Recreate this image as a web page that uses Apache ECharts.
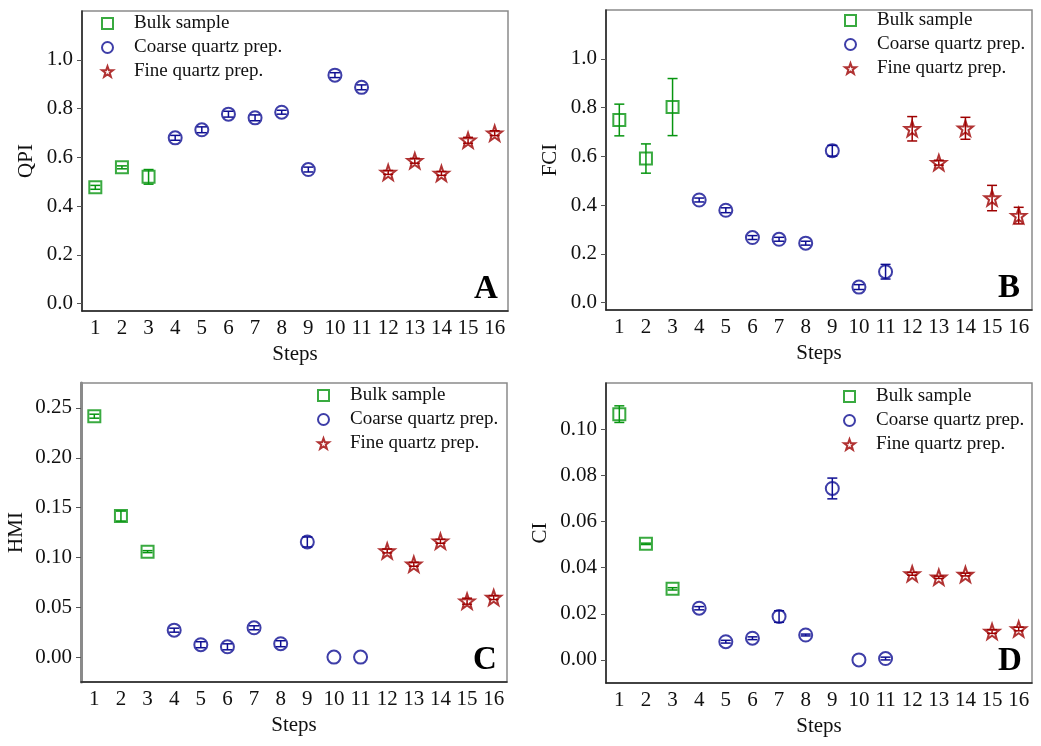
<!DOCTYPE html>
<html>
<head>
<meta charset="utf-8">
<title>QPI / FCI / HMI / CI by step</title>
<script src="https://cdn.jsdelivr.net/npm/echarts@6/dist/echarts.min.js"></script>
<style>
  html, body { margin: 0; padding: 0; background: #fff; }
  #chart { width: 1041px; height: 746px; }
</style>
</head>
<body>
<div id="chart"></div>
<script>
// 步骤 1-16
const steps = ['1', '2', '3', '4', '5', '6', '7', '8', '9', '10', '11', '12', '13', '14', '15', '16'];
// 每个步骤属于哪一组
const stepGroup = ['bulk', 'bulk', 'bulk', 'coarse', 'coarse', 'coarse', 'coarse', 'coarse',
  'coarse', 'coarse', 'coarse', 'fine', 'fine', 'fine', 'fine', 'fine'];

// A - QPI
const qpi = [0.477, 0.559, 0.520, 0.680, 0.713, 0.777, 0.762, 0.785, 0.550, 0.937, 0.887, 0.538, 0.586, 0.534, 0.670, 0.699];
const qpiErr = [0.008, 0.006, 0.030, 0.010, 0.012, 0.012, 0.012, 0.008, 0.010, 0.010, 0.010, 0.008, 0.010, 0.008, 0.012, 0.010];
// B - FCI
const fci = [0.749, 0.591, 0.802, 0.421, 0.379, 0.267, 0.260, 0.244, 0.623, 0.064, 0.127, 0.713, 0.574, 0.715, 0.429, 0.357];
const fciErr = [0.065, 0.060, 0.117, 0.008, 0.010, 0.008, 0.008, 0.008, 0.022, 0.010, 0.030, 0.050, 0.010, 0.045, 0.052, 0.034];
// C - HMI
const hmi = [0.2417, 0.1415, 0.1058, 0.0270, 0.0124, 0.0103, 0.0294, 0.0134, 0.1155, 0.0000, 0.0000, 0.1065, 0.0931, 0.1162, 0.0561, 0.0597];
const hmiErr = [0.002, 0.005, 0.001, 0.002, 0.003, 0.003, 0.002, 0.003, 0.005, 0.000, 0.000, 0.002, 0.002, 0.002, 0.003, 0.002];
// D - CI
const ci = [0.1065, 0.0503, 0.0308, 0.0224, 0.0079, 0.0094, 0.0188, 0.0108, 0.0743, 0.0000, 0.0006, 0.0373, 0.0358, 0.0370, 0.0123, 0.0134];
const ciErr = [0.0036, 0.0003, 0.0005, 0.0007, 0.0006, 0.0006, 0.0025, 0.0004, 0.0045, 0.0000, 0.0006, 0.0006, 0.0005, 0.0006, 0.0008, 0.0008];

// y 轴刻度
const ticksA = [0, 0.2, 0.4, 0.6, 0.8, 1.0];
const ticksB = [0, 0.2, 0.4, 0.6, 0.8, 1.0];
const ticksC = [0, 0.05, 0.10, 0.15, 0.20, 0.25];
const ticksD = [0, 0.02, 0.04, 0.06, 0.08, 0.10];

const groups = [
  { key: 'bulk', name: 'Bulk sample', color: '#079510', symbol: 'rect', size: 12 },
  { key: 'coarse', name: 'Coarse quartz prep.', color: '#0e0e92', symbol: 'circle', size: 13 },
  { key: 'fine', name: 'Fine quartz prep.', color: '#9e0000', size: 15,
    symbol: 'path://M0,-10L2.35,-3.24L9.51,-3.09L3.8,1.24L5.88,8.09L0,4.1L-5.88,8.09L-3.8,1.24L-9.51,-3.09L-2.35,-3.24Z' }
];

const FONT = '"Liberation Serif", "Times New Roman", serif';

const panels = [
  { label: 'A', name: 'QPI', values: qpi, errs: qpiErr, ticks: ticksA, min: -0.03, max: 1.2, digits: 1,
    grid: { left: 82, top: 11, width: 426, height: 300 }, nameGap: 45, legend: { left: 101, top: 14 } },
  { label: 'B', name: 'FCI', values: fci, errs: fciErr, ticks: ticksB, min: -0.03, max: 1.2, digits: 1,
    grid: { left: 606, top: 10, width: 426, height: 300 }, nameGap: 45, legend: { left: 844, top: 11 } },
  { label: 'C', name: 'HMI', values: hmi, errs: hmiErr, ticks: ticksC, min: -0.025, max: 0.275, digits: 2,
    grid: { left: 81, top: 383, width: 426, height: 299 }, nameGap: 54, legend: { left: 317, top: 386 }, thickAxis: true },
  { label: 'D', name: 'CI', values: ci, errs: ciErr, ticks: ticksD, min: -0.01, max: 0.12, digits: 2,
    grid: { left: 606, top: 383, width: 426, height: 300 }, nameGap: 55, legend: { left: 843, top: 387 } }
];

// 误差线
const errorBar = (color) => (params, api) => {
  const x = api.value(0);
  const top = api.coord([x, api.value(2)]);
  const bot = api.coord([x, api.value(1)]);
  if (Math.abs(bot[1] - top[1]) < 0.5) return null;
  const half = 5;
  const style = { stroke: color, lineWidth: 1.5 };
  return {
    type: 'group',
    children: [
      { type: 'line', shape: { x1: top[0], y1: top[1], x2: bot[0], y2: bot[1] }, style },
      { type: 'line', shape: { x1: top[0] - half, y1: top[1], x2: top[0] + half, y2: top[1] }, style },
      { type: 'line', shape: { x1: bot[0] - half, y1: bot[1], x2: bot[0] + half, y2: bot[1] }, style }
    ]
  };
};

const option = {
  backgroundColor: '#fff',
  animation: false,
  textStyle: { fontFamily: FONT },
  grid: [], xAxis: [], yAxis: [], series: [], legend: [], title: []
};

panels.forEach((p, i) => {
  option.grid.push(Object.assign({
    show: true, borderColor: '#8a8a8a', borderWidth: 1.5, backgroundColor: 'transparent'
  }, p.grid));

  option.xAxis.push({
    type: 'category', gridIndex: i, data: steps, boundaryGap: true,
    name: 'Steps', nameLocation: 'middle', nameGap: 33,
    nameTextStyle: { fontFamily: FONT, fontSize: 21, color: '#111' },
    axisLine: { onZero: false, lineStyle: { color: '#222', width: 1.5 } },
    axisTick: { alignWithLabel: true, interval: 0, length: 5, lineStyle: { color: '#555' } },
    axisLabel: { interval: 0, margin: 7, fontFamily: FONT, fontSize: 21, color: '#111' },
    splitLine: { show: false }
  });

  option.yAxis.push({
    type: 'value', gridIndex: i, min: p.min, max: p.max,
    name: p.name, nameLocation: 'middle', nameGap: p.nameGap,
    nameTextStyle: { fontFamily: FONT, fontSize: 21, color: '#111' },
    axisLine: { show: true, onZero: false, lineStyle: { color: p.thickAxis ? '#8a8a8a' : '#222', width: p.thickAxis ? 3 : 1.5 } },
    axisTick: { show: true, length: 5, customValues: p.ticks, lineStyle: { color: '#555' } },
    axisLabel: {
      margin: 9, fontFamily: FONT, fontSize: 21, color: '#111', customValues: p.ticks,
      formatter: (v) => Number(v).toFixed(p.digits)
    },
    splitLine: { show: false }
  });

  groups.forEach((g) => {
    const pts = [];
    const bars = [];
    p.values.forEach((v, k) => {
      if (stepGroup[k] !== g.key) return;
      pts.push([k, v]);
      bars.push([k, v - p.errs[k], v + p.errs[k]]);
    });
    option.series.push({
      type: 'custom', name: g.name + ' error', xAxisIndex: i, yAxisIndex: i, z: 2,
      renderItem: errorBar(g.color), encode: { x: 0, y: [1, 2] }, data: bars, silent: true
    });
    option.series.push({
      type: 'scatter', name: g.name, xAxisIndex: i, yAxisIndex: i, z: 3,
      symbol: g.symbol, symbolSize: g.size,
      itemStyle: { color: 'rgba(255,255,255,0)', borderColor: g.color, borderWidth: 2 },
      data: pts
    });
  });

  option.legend.push({
    orient: 'vertical', left: p.legend.left, top: p.legend.top, padding: 0,
    itemWidth: 11, itemHeight: 11, itemGap: 5,
    data: groups.map((g) => ({ name: g.name, icon: g.symbol,
      itemStyle: { color: 'rgba(255,255,255,0)', borderColor: g.color, borderWidth: 2 } })),
    textStyle: { fontFamily: FONT, fontSize: 19, color: '#111', padding: [0, 0, 0, 16] }
  });

  option.title.push({
    text: p.label, padding: 0,
    left: p.grid.left + p.grid.width - 34, top: p.grid.top + p.grid.height - 38,
    textStyle: { fontFamily: FONT, fontSize: 33, fontWeight: 'bold', color: '#000' }
  });
});

const chart = echarts.init(document.getElementById('chart'));
chart.setOption(option);
</script>
</body>
</html>
